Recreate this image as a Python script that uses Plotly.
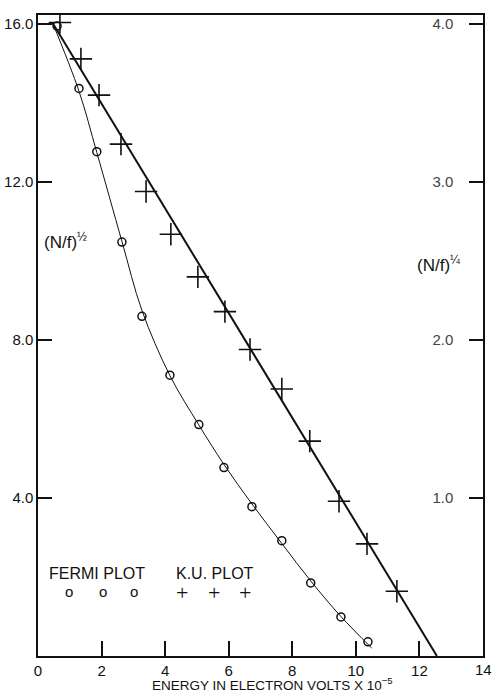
import plotly.graph_objects as go

# Fermi plot: (N/f)^(1/2) vs energy (left axis)
fermi_x = [0.6, 1.29, 1.85, 2.64, 3.27, 4.15, 5.06, 5.85, 6.73, 7.67, 8.58, 9.53, 10.38]
fermi_y = [15.95, 14.37, 12.77, 10.48, 8.60, 7.11, 5.86, 4.77, 3.78, 2.92, 1.85, 0.99, 0.36]
# smooth curve drawn through the Fermi points
fermi_curve_x = [0.45, 1.29, 1.85, 2.64, 3.27, 4.15, 5.06, 5.85, 6.73, 7.67, 8.58, 9.53, 10.5]
fermi_curve_y = [16.05, 14.3, 12.75, 10.5, 8.75, 7.1, 5.85, 4.85, 3.85, 2.85, 1.9, 1.0, 0.2]

# K.U. plot: (N/f)^(1/4) vs energy (right axis)
ku_x = [0.69, 1.35, 1.92, 2.61, 3.40, 4.18, 5.03, 5.88, 6.67, 7.67, 8.55, 9.47, 10.35, 11.29]
ku_y = [4.01, 3.78, 3.55, 3.24, 2.94, 2.67, 2.40, 2.18, 1.94, 1.69, 1.36, 0.98, 0.71, 0.41]
ku_line_x = [0.45, 12.55]
ku_line_y = [4.01, 0.0]

x_ticks = [0, 2, 4, 6, 8, 10, 12, 14]
x_tick_text = ["0", "2", "4", "6", "8", "10", "12", ""]
x_end_label = "14"
left_ticks = [4.0, 8.0, 12.0, 16.0]
left_tick_text = ["4.0", "8.0", "12.0", "16.0"]
right_ticks = [1.0, 2.0, 3.0, 4.0]
right_tick_text = ["1.0", "2.0", "3.0", "4.0"]

INK = "#111111"
FONT = "Liberation Sans"

fig = go.Figure()
fig.add_trace(go.Scatter(x=fermi_curve_x, y=fermi_curve_y, mode="lines",
                         line=dict(color=INK, width=1, shape="spline", smoothing=1.0),
                         showlegend=False, hoverinfo="skip"))
fig.add_trace(go.Scatter(x=fermi_x, y=fermi_y, mode="markers", name="FERMI PLOT",
                         marker=dict(symbol="circle-open", size=8, color=INK,
                                     line=dict(width=1.5, color=INK)),
                         showlegend=False))
fig.add_trace(go.Scatter(x=ku_line_x, y=ku_line_y, mode="lines", yaxis="y2",
                         line=dict(color=INK, width=2), showlegend=False, hoverinfo="skip"))
fig.add_trace(go.Scatter(x=ku_x, y=ku_y, mode="markers", yaxis="y2", name="K.U. PLOT",
                         marker=dict(symbol="cross-thin-open", size=16, color=INK,
                                     line=dict(width=1.6, color=INK)),
                         showlegend=False))

axis_line = dict(showline=True, linecolor=INK, linewidth=1.5, showgrid=False, zeroline=False)

fig.update_layout(
    width=492, height=692,
    margin=dict(l=38, r=9, t=15, b=36),
    paper_bgcolor="white", plot_bgcolor="white",
    font=dict(family=FONT, color=INK),
    xaxis=dict(range=[0, 14], tickvals=x_ticks, ticktext=x_tick_text,
               ticks="inside", ticklen=15, tickwidth=1.5, tickcolor=INK,
               ticklabeloverflow="allow",
               tickfont=dict(size=15, family=FONT), mirror=True, automargin=False, **axis_line),
    yaxis=dict(range=[0, 16.23], tickvals=left_ticks, ticktext=left_tick_text,
               ticks="inside", ticklen=14, tickwidth=1.5, tickcolor=INK, automargin=False,
               tickfont=dict(size=15, family=FONT), **axis_line),
    yaxis2=dict(range=[0, 16.23 / 4], overlaying="y", side="right",
                tickvals=right_ticks, ticktext=right_tick_text,
                ticks="inside", ticklen=14, tickwidth=1.5, tickcolor=INK,
                ticklabelposition="inside", ticklabelstandoff=16, automargin=False,
                tickfont=dict(size=15, family=FONT), **axis_line),
)

ann = []
ann.append(dict(text=x_end_label, xref="x", yref="paper",
                x=x_ticks[-1], y=-0.0218, xanchor="center", yanchor="middle", showarrow=False,
                font=dict(size=15, family=FONT, color=INK)))
ann.append(dict(text="ENERGY IN ELECTRON VOLTS X 10<sup>−5</sup>", xref="paper", yref="paper",
                x=0.526, y=-0.043, xanchor="center", yanchor="middle", showarrow=False,
                borderpad=0, font=dict(size=13.5, family=FONT, color=INK)))
ann.append(dict(text="(N/f)<sup>½</sup>", xref="paper", yref="paper",
                x=0.008, y=0.648, xanchor="left", yanchor="middle", showarrow=False,
                font=dict(size=17, family=FONT, color=INK)))
ann.append(dict(text="(N/f)<sup>¼</sup>", xref="paper", yref="paper",
                x=0.955, y=0.612, xanchor="right", yanchor="middle", showarrow=False,
                font=dict(size=17, family=FONT, color=INK)))
ann.append(dict(text="FERMI PLOT", xref="paper", yref="paper",
                x=0.133, y=0.128, xanchor="center", yanchor="middle", showarrow=False,
                font=dict(size=16, family=FONT, color=INK)))
ann.append(dict(text="K.U. PLOT", xref="paper", yref="paper",
                x=0.398, y=0.128, xanchor="center", yanchor="middle", showarrow=False,
                font=dict(size=16, family=FONT, color=INK)))
for px in [69, 103, 134]:
    ann.append(dict(text="o", xref="paper", yref="paper",
                    x=(px - 38) / 445, y=(656 - 591) / 641, xanchor="center", yanchor="middle",
                    showarrow=False, font=dict(size=15, family=FONT, color=INK)))
for px in [182, 214, 245]:
    ann.append(dict(text="+", xref="paper", yref="paper",
                    x=(px - 38) / 445, y=(656 - 592) / 641, xanchor="center", yanchor="middle",
                    showarrow=False, font=dict(size=22, family="DejaVu Sans ExtraLight", color=INK)))
fig.update_layout(annotations=ann)

fig.write_html("out.html", config={"displayModeBar": False},
               post_script="document.body.style.margin='0';document.body.style.padding='0';")
